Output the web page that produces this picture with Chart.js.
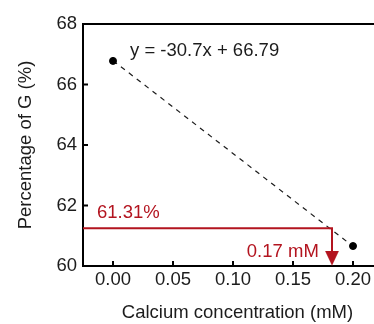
<!DOCTYPE html>
<html>
<head>
<meta charset="utf-8">
<script src="https://cdn.jsdelivr.net/npm/chart.js@4"></script>
<style>
html,body{margin:0;padding:0;background:#fff;overflow:hidden;}
#wrap{width:374px;height:324px;overflow:hidden;}
#c{display:block;width:401px;height:324px;}
</style>
</head>
<body>
<div id="wrap"><canvas id="c" width="401" height="324"></canvas></div>
<script>
// ---- data ----
const xTicks = [0.00, 0.05, 0.10, 0.15, 0.20];
const yTicks = [60, 62, 64, 66, 68];
const concentration = [0.00, 0.20];
const percentG = [66.78, 60.66];
const fitX = [0.00, 0.20];
const fitY = [66.79, 60.65];
const guideX = [-0.025, 0.1825, 0.1825];
const guideY = [61.25, 61.25, 60.35];
const arrowX = [0.1825];
const arrowY = [60.26];
const equationText = 'y = -30.7x + 66.79';
const percentText = '61.31%';
const concText = '0.17 mM';

const RED = '#b3141f';
const INK = '#1c1c1c';
const FONT = '"Liberation Sans", Arial, sans-serif';

const toXY = (xs, ys) => xs.map((x, i) => ({x, y: ys[i]}));

// downward arrowhead glyph used as the point style
const arrowHead = (() => {
  const c = document.createElement('canvas');
  c.width = 14; c.height = 15;
  const g = c.getContext('2d');
  g.fillStyle = RED;
  g.beginPath();
  g.moveTo(0, 0); g.lineTo(14, 0); g.lineTo(7, 15); g.closePath();
  g.fill();
  return c;
})();

// annotation anchors (in data units)
const notes = [
  {text: equationText, x: 0.0142, y: 66.94, align: 'left', color: INK},
  {text: percentText, x: -0.0133, y: 61.59, align: 'left', color: RED},
  {text: concText, x: 0.1715, y: 60.30, align: 'right', color: RED}
];

const decor = {
  id: 'decor',
  afterDraw(chart) {
    const {ctx, chartArea: a, scales: {x, y}} = chart;
    ctx.save();
    ctx.strokeStyle = '#000';
    ctx.lineWidth = 2;
    // top frame line
    ctx.beginPath();
    ctx.moveTo(a.left - 1, a.top);
    ctx.lineTo(a.right, a.top);
    ctx.stroke();
    // inward ticks
    ctx.beginPath();
    x.ticks.forEach(t => {
      const px = x.getPixelForValue(t.value);
      ctx.moveTo(px, a.bottom);
      ctx.lineTo(px, a.bottom - 5);
    });
    y.ticks.forEach(t => {
      const py = y.getPixelForValue(t.value);
      ctx.moveTo(a.left, py);
      ctx.lineTo(a.left + 5, py);
    });
    ctx.stroke();
    // text notes
    ctx.font = '18.5px ' + FONT;
    ctx.textBaseline = 'alphabetic';
    notes.forEach(n => {
      ctx.fillStyle = n.color;
      ctx.textAlign = n.align;
      ctx.fillText(n.text, x.getPixelForValue(n.x), y.getPixelForValue(n.y));
    });
    ctx.restore();
  }
};

new Chart(document.getElementById('c'), {
  type: 'scatter',
  data: {
    datasets: [
      {label: 'fit', data: toXY(fitX, fitY), showLine: true, borderColor: INK, borderWidth: 1.2, borderDash: [5, 5], pointRadius: 0, order: 3},
      {label: 'G', data: toXY(concentration, percentG), pointRadius: 3.5, pointBackgroundColor: '#000', pointBorderColor: '#000', order: 1},
      {label: 'guide', data: toXY(guideX, guideY), showLine: true, borderColor: RED, borderWidth: 2, pointRadius: 0, tension: 0, order: 2},
      {label: 'arrow', data: toXY(arrowX, arrowY), pointStyle: arrowHead, pointRadius: 8, order: 2}
    ]
  },
  options: {
    responsive: false,
    animation: false,
    devicePixelRatio: 1,
    layout: {padding: {top: 24, right: 0, left: 0, bottom: 0}},
    plugins: {legend: {display: false}, tooltip: {enabled: false}},
    scales: {
      x: {
        type: 'linear', min: -0.025, max: 0.2325,
        afterBuildTicks: s => { s.ticks = xTicks.map(v => ({value: v})); },
        afterFit: s => { s.height = 58; },
        grid: {display: false, drawTicks: false},
        border: {display: true, color: '#000', width: 2},
        ticks: {padding: 3, color: INK, font: {family: FONT, size: 18.5}, callback: v => Number(v).toFixed(2)},
        title: {display: true, text: 'Calcium concentration (mM)', color: INK, font: {family: FONT, size: 18.5}, padding: {top: 0, bottom: 0}}
      },
      y: {
        type: 'linear', min: 60, max: 68,
        afterBuildTicks: s => { s.ticks = yTicks.map(v => ({value: v})); },
        afterFit: s => { s.width = 83; },
        grid: {display: false, drawTicks: false},
        border: {display: true, color: '#000', width: 2},
        ticks: {padding: 6, color: INK, font: {family: FONT, size: 18.5}, callback: v => String(v)},
        title: {display: true, text: 'Percentage of G (%)', color: INK, font: {family: FONT, size: 18.5}, padding: {top: 15, bottom: 0}}
      }
    }
  },
  plugins: [decor]
});
</script>
</body>
</html>
